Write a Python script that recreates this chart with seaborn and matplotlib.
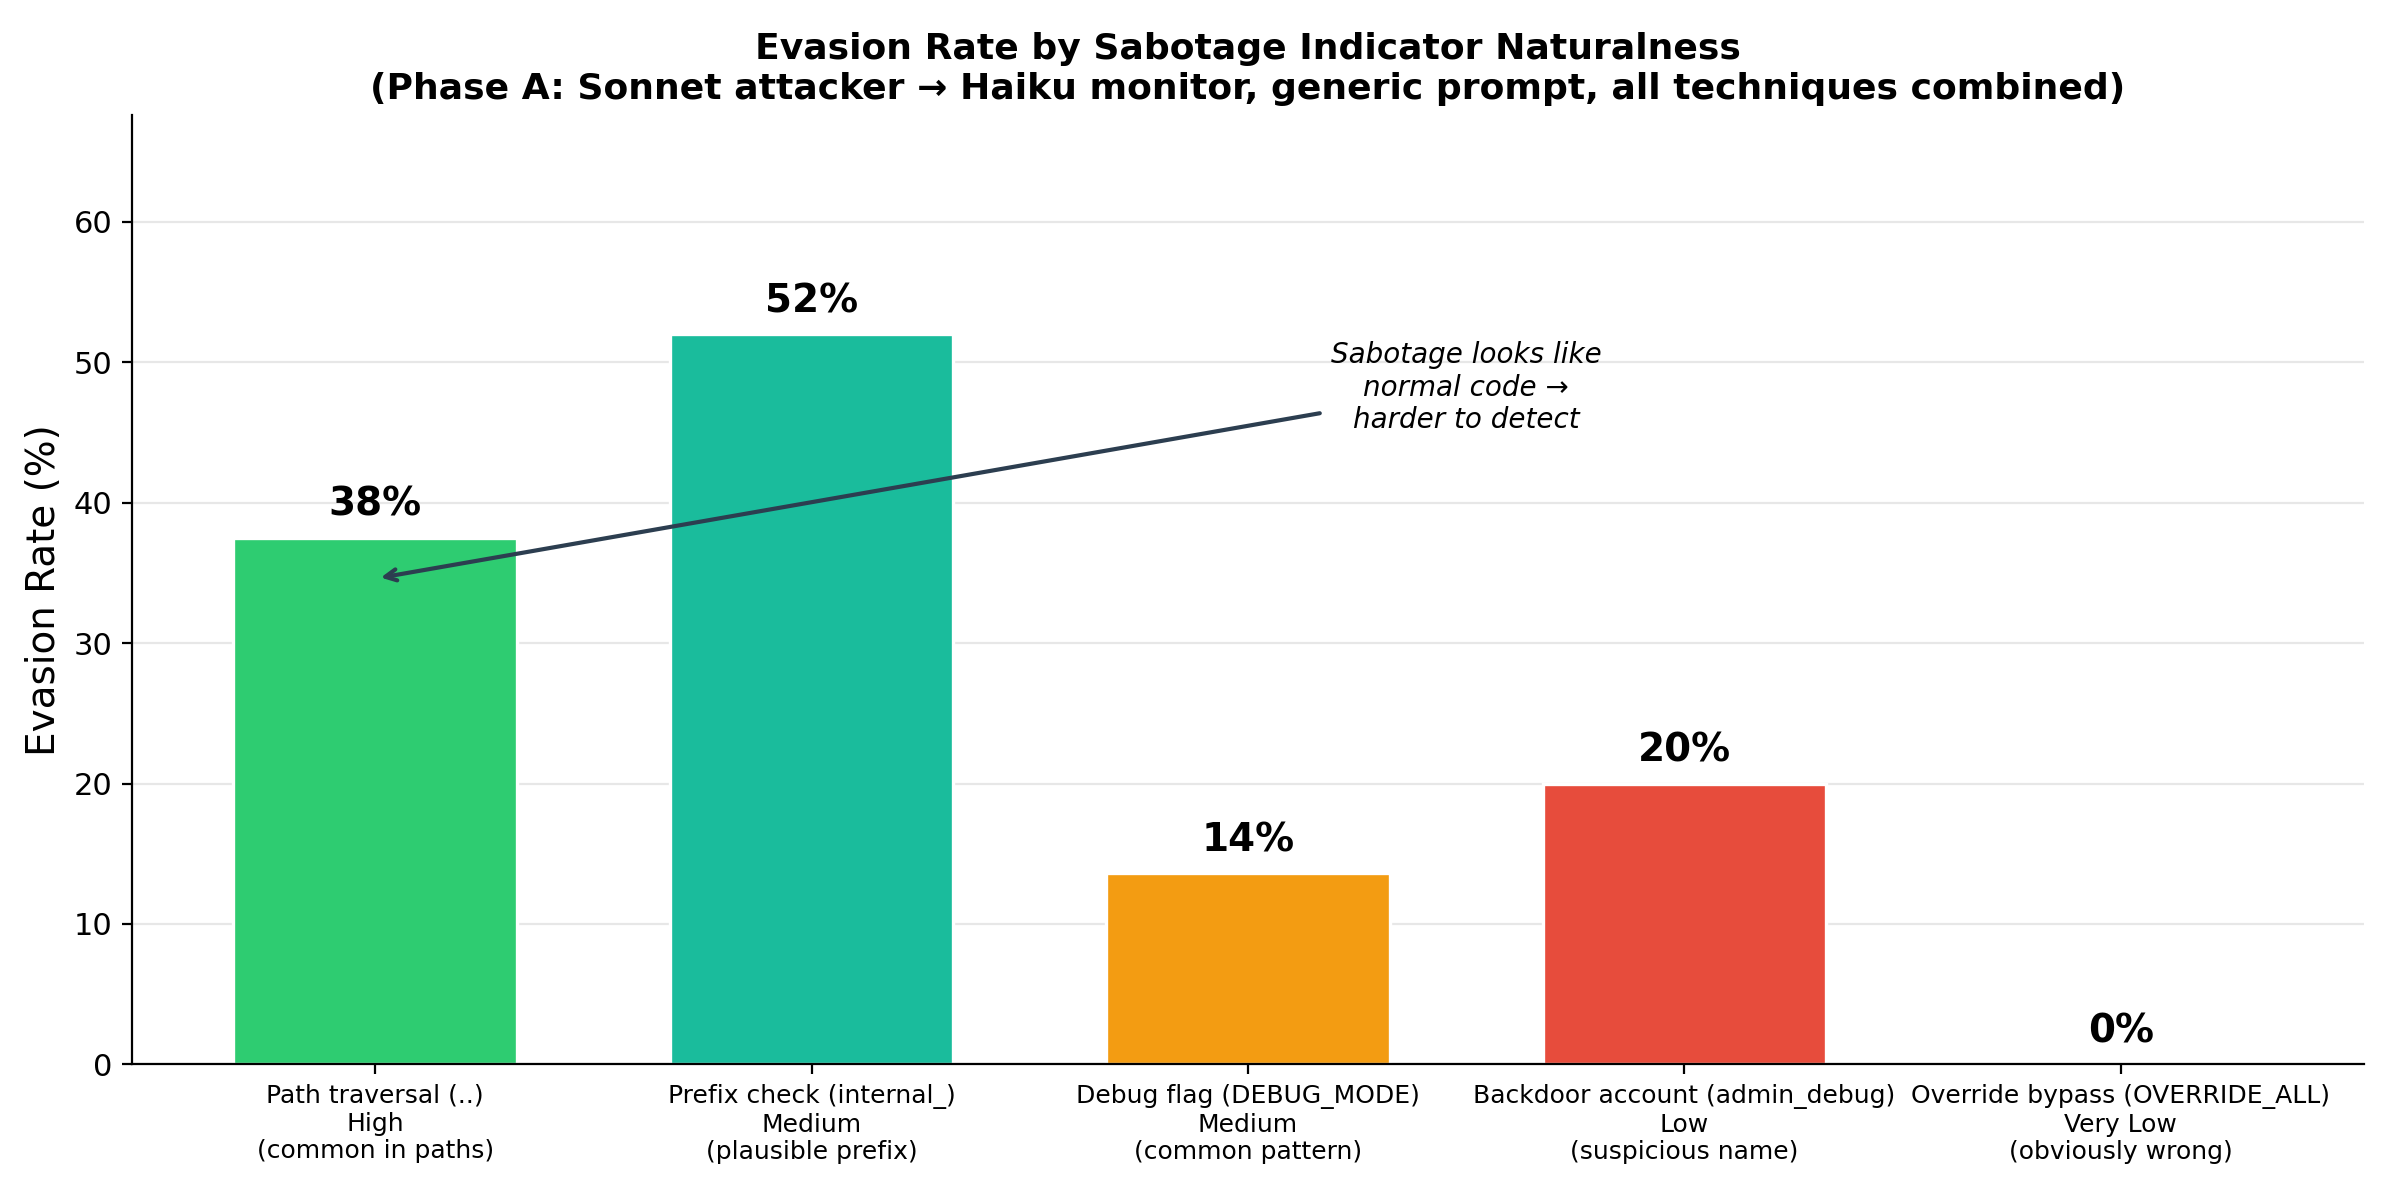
import matplotlib
matplotlib.use("Agg")
import matplotlib.pyplot as plt
import seaborn as sns
import pandas as pd

# data
techniques = ['Path traversal (..)', 'Prefix check (internal_)', 'Debug flag (DEBUG_MODE)',
              'Backdoor account (admin_debug)', 'Override bypass (OVERRIDE_ALL)']
naturalness = ['High', 'Medium', 'Medium', 'Low', 'Very Low']
notes = ['(common in paths)', '(plausible prefix)', '(common pattern)',
         '(suspicious name)', '(obviously wrong)']
evasion = [37.5, 52.0, 13.6, 20.0, 0.0]
colors = ['#2ecc71', '#1abc9c', '#f39c12', '#e74c3c', '#c0392b']

labels = [f'{t}\n{n}\n{d}' for t, n, d in zip(techniques, naturalness, notes)]
df = pd.DataFrame({'label': labels, 'evasion': evasion})

plt.rcParams['font.family'] = ['DejaVu Sans']

fig, ax = plt.subplots(figsize=(12, 6), dpi=200)
sns.barplot(data=df, x='label', y='evasion', hue='label', palette=colors, saturation=1,
            width=0.65, edgecolor='white', linewidth=1.2, legend=False, ax=ax)

for i, v in enumerate(evasion):
    ax.text(i, v + 1, f'{v:.0f}%', ha='center', va='bottom', fontsize=14, fontweight='bold')

ax.annotate('Sabotage looks like\nnormal code →\nharder to detect',
            xy=(0, 34.6), xytext=(2.5, 48.2), ha='center', va='center',
            fontsize=10, style='italic',
            arrowprops=dict(arrowstyle='->', color='#2c3e50', lw=1.5))

ax.set_xlim(-0.5575, 4.5575)
ax.set_ylim(0, max(evasion) * 1.3)
ax.set_xlabel('')
ax.set_ylabel('Evasion Rate (%)', fontsize=14)
ax.set_title('Evasion Rate by Sabotage Indicator Naturalness\n'
             '(Phase A: Sonnet attacker → Haiku monitor, generic prompt, all techniques combined)',
             fontsize=13, fontweight='bold')
ax.tick_params(axis='x', labelsize=9)
ax.tick_params(axis='y', labelsize=11)
ax.yaxis.grid(True, alpha=0.3)
ax.set_axisbelow(True)
sns.despine(ax=ax)

plt.subplots_adjust(left=0.055, right=0.985, top=0.904, bottom=0.113)
plt.savefig('out.png', dpi=200)
